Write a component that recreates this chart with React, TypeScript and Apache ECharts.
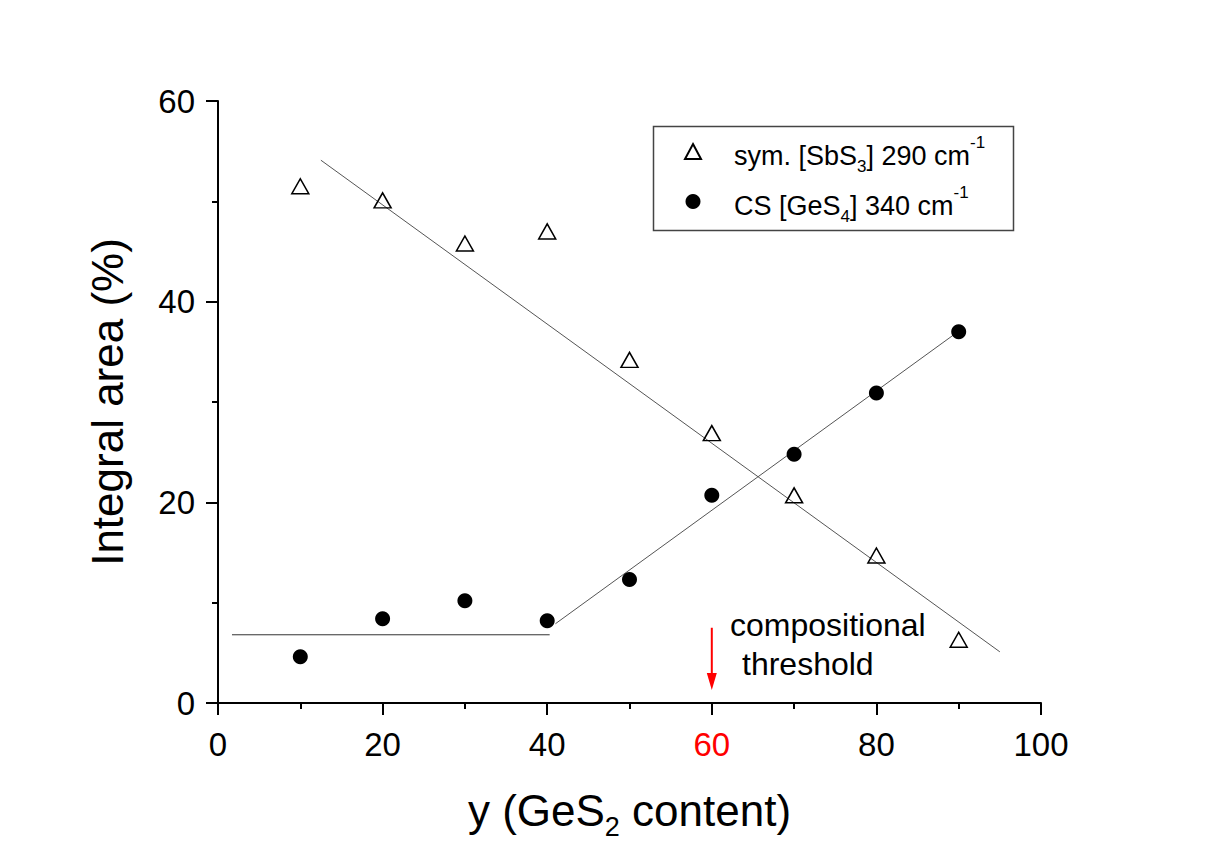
import React, { useEffect, useRef } from "react";
import * as echarts from "echarts";

// ---- data ----
const compositions = [10, 20, 30, 40, 50, 60, 70, 80, 90];
const symSbS3 = [51.5, 50.1, 45.8, 47.0, 34.2, 26.9, 20.7, 14.7, 6.3];
const csGeS4 = [4.6, 8.4, 10.2, 8.2, 12.3, 20.7, 24.8, 30.9, 37.0];

const fitSymX = [12.5, 95.0];
const fitSymY = [54.1, 5.1];
const fitCsLowX = [1.7, 40.3];
const fitCsLowY = [6.8, 6.8];
const fitCsHighX = [41.0, 89.9];
const fitCsHighY = [7.9, 37.0];

const thresholdX = 60;
const arrowShaftY = [7.5, 2.9];
const arrowHeadY = 2.14;

const xTicks = { min: 0, max: 100, interval: 20 };
const yTicks = { min: 0, max: 60, interval: 20 };

const FONT = "'Liberation Sans', Arial, Helvetica, sans-serif";

const zip = (xs: number[], ys: number[]) => xs.map((x, i) => [x, ys[i]]);

export default function App() {
  const ref = useRef<HTMLDivElement>(null);

  useEffect(() => {
    if (!ref.current) return;
    const chart = echarts.init(ref.current, undefined, { renderer: "svg", width: 1211, height: 841 });

    const legendRich = {
      sp: { width: 28, fontSize: 27 },
      t: { fontSize: 27, lineHeight: 30, padding: [8, 0, 0, 0], fontFamily: FONT, color: "#000" },
      sub: { fontSize: 17, lineHeight: 17, padding: [30, 0, 0, 0], fontFamily: FONT, color: "#000" },
      sup: { fontSize: 17, lineHeight: 17, padding: [0, 0, 18, 0], fontFamily: FONT, color: "#000" },
    };

    const option: any = {
      animation: false,
      backgroundColor: "#fff",
      textStyle: { fontFamily: FONT },
      grid: {
        left: 218,
        right: 170,
        top: 101,
        bottom: 138,
        containLabel: false,
        outerBoundsMode: "none",
      },
      xAxis: {
        type: "value",
        min: xTicks.min,
        max: xTicks.max,
        interval: xTicks.interval,
        name: "{t|y (GeS}{sub|2}{t| content)}",
        nameLocation: "middle",
        nameGap: 82,
        nameTextStyle: {
          rich: {
            t: { fontSize: 44, lineHeight: 50, fontFamily: FONT, color: "#000" },
            sub: { fontSize: 27, lineHeight: 20, padding: [34, 0, 0, 0], fontFamily: FONT, color: "#000" },
          },
        },
        axisLine: { show: true, lineStyle: { color: "#000", width: 2 } },
        axisTick: { show: true, inside: false, length: 12, lineStyle: { color: "#000", width: 2 } },
        minorTick: { show: true, splitNumber: 2, length: 6, lineStyle: { color: "#000", width: 2 } },
        splitLine: { show: false },
        axisLabel: {
          fontSize: 33,
          fontFamily: FONT,
          margin: 25,
          color: (val: any) => (Number(val) === thresholdX ? "#ff0000" : "#000"),
        },
      },
      yAxis: {
        type: "value",
        min: yTicks.min,
        max: yTicks.max,
        interval: yTicks.interval,
        name: "Integral area (%)",
        nameLocation: "middle",
        nameGap: 89,
        nameTextStyle: { fontSize: 44, lineHeight: 44, fontFamily: FONT, color: "#000" },
        axisLine: { show: true, lineStyle: { color: "#000", width: 2 } },
        axisTick: { show: true, inside: false, length: 12, lineStyle: { color: "#000", width: 2 } },
        minorTick: { show: true, splitNumber: 2, length: 6, lineStyle: { color: "#000", width: 2 } },
        splitLine: { show: false },
        axisLabel: { fontSize: 33, fontFamily: FONT, margin: 23, color: "#000" },
      },
      legend: {
        data: ["sym", "cs"],
        orient: "vertical",
        left: 684,
        top: 128,
        padding: 0,
        itemGap: 3,
        itemWidth: 16,
        itemHeight: 15,
        selectedMode: false,
        textStyle: { rich: legendRich, fontFamily: FONT },
        formatter: (name: string) =>
          name === "sym"
            ? "{sp| }{t|sym. [SbS}{sub|3}{t|] 290 cm}{sup|-1}"
            : "{sp| }{t|CS [GeS}{sub|4}{t|] 340 cm}{sup|-1}",
      },
      graphic: [
        {
          type: "rect",
          left: 651,
          top: 124,
          shape: { x: 0, y: 0, width: 360, height: 104 },
          style: { fill: "none", stroke: "#444", lineWidth: 1.5 },
          silent: true,
        },
        {
          type: "text",
          x: 730,
          y: 625,
          style: {
            text: "compositional",
            fontSize: 32,
            fontFamily: FONT,
            fill: "#000",
            textVerticalAlign: "middle",
            verticalAlign: "middle",
          },
        },
        {
          type: "text",
          x: 742,
          y: 664,
          style: {
            text: "threshold",
            fontSize: 32,
            fontFamily: FONT,
            fill: "#000",
            textVerticalAlign: "middle",
            verticalAlign: "middle",
          },
        },
      ],
      series: [
        {
          name: "fitSym",
          type: "line",
          data: zip(fitSymX, fitSymY),
          showSymbol: false,
          symbol: "none",
          lineStyle: { color: "#555", width: 1 },
          z: 2,
          silent: true,
        },
        {
          name: "fitCsLow",
          type: "line",
          data: zip(fitCsLowX, fitCsLowY),
          showSymbol: false,
          symbol: "none",
          lineStyle: { color: "#333", width: 1 },
          z: 2,
          silent: true,
        },
        {
          name: "fitCsHigh",
          type: "line",
          data: zip(fitCsHighX, fitCsHighY),
          showSymbol: false,
          symbol: "none",
          lineStyle: { color: "#555", width: 1 },
          z: 2,
          silent: true,
        },
        {
          name: "sym",
          type: "scatter",
          data: zip(compositions, symSbS3),
          symbol: "triangle",
          symbolSize: [17, 15],
          itemStyle: { color: "rgba(255,255,255,0)", borderColor: "#000", borderWidth: 1.5, opacity: 1 },
          z: 4,
        },
        {
          name: "cs",
          type: "scatter",
          data: zip(compositions, csGeS4),
          symbol: "circle",
          symbolSize: 15,
          itemStyle: { color: "#000", opacity: 1 },
          z: 4,
        },
        {
          name: "arrowShaft",
          type: "line",
          data: arrowShaftY.map((y) => [thresholdX, y]),
          showSymbol: false,
          symbol: "none",
          lineStyle: { color: "#ff0000", width: 2 },
          z: 3,
          silent: true,
        },
        {
          name: "arrowHead",
          type: "scatter",
          data: [[thresholdX, arrowHeadY]],
          symbol: "triangle",
          symbolRotate: 180,
          symbolSize: [10, 17],
          itemStyle: { color: "#ff0000", opacity: 1 },
          z: 3,
          silent: true,
        },
      ],
    };

    chart.setOption(option);
    return () => chart.dispose();
  }, []);

  return (
    <div
      ref={ref}
      style={{ position: "absolute", left: 0, top: 0, width: 1211, height: 841, background: "#fff" }}
    />
  );
}
